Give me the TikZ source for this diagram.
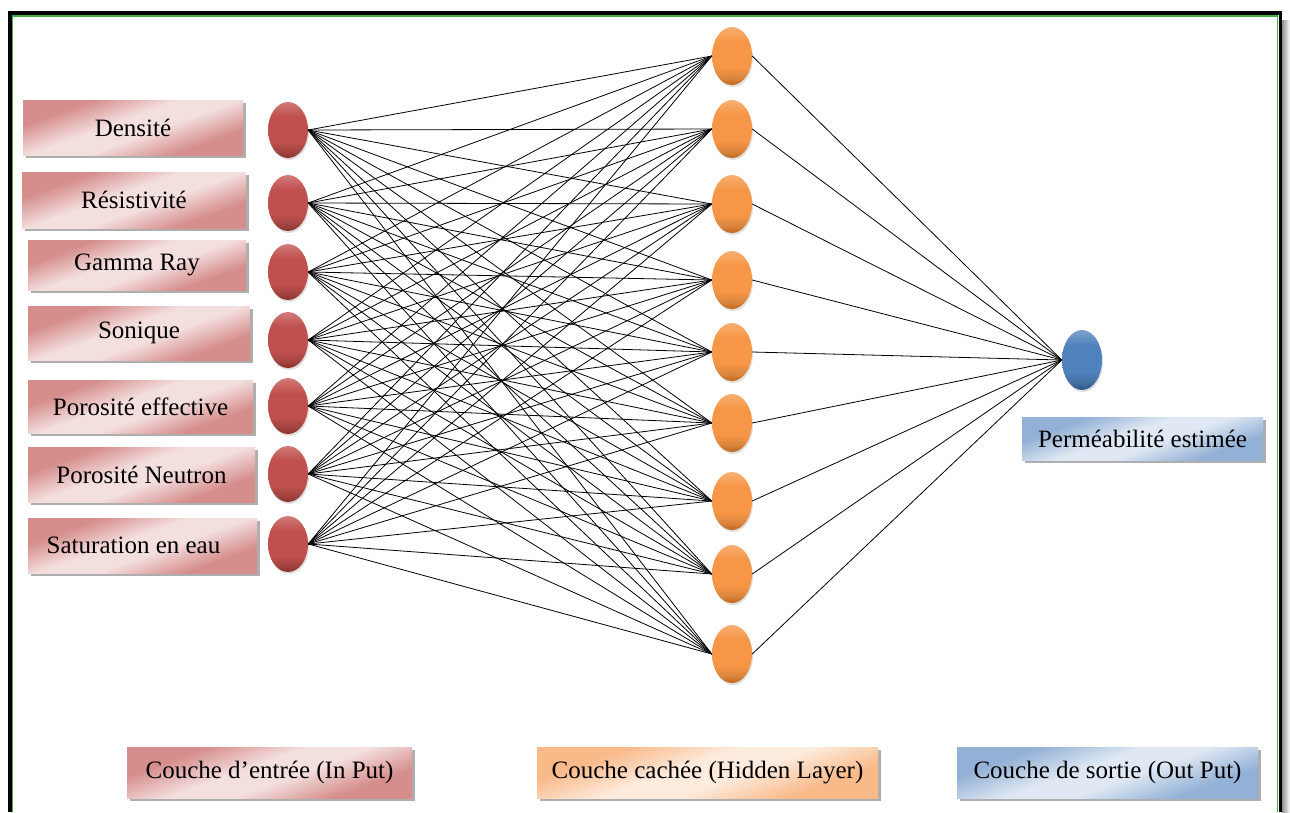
\documentclass[tikz,border=0pt]{standalone}
\usepackage{fontspec}
\setmainfont{Liberation Serif}
\usetikzlibrary{shadows,shapes.geometric}
\definecolor{inred}{HTML}{C0504D}
\definecolor{inredlt}{HTML}{D27B79}
\definecolor{inreddk}{HTML}{8A302E}
\definecolor{hidor}{HTML}{F79646}
\definecolor{hidorlt}{HTML}{F9AE70}
\definecolor{hidordk}{HTML}{C0661C}
\definecolor{outbl}{HTML}{4F81BD}
\definecolor{outbllt}{HTML}{7DA0CE}
\definecolor{outbldk}{HTML}{2F5687}
\definecolor{pinkdk}{HTML}{D58E8C}
\definecolor{pinklt}{HTML}{F4DFDF}
\definecolor{peachdk}{HTML}{F9BA8A}
\definecolor{peachlt}{HTML}{FDEBDD}
\definecolor{skydk}{HTML}{93B1D6}
\definecolor{skylt}{HTML}{DFE8F3}
\definecolor{framegreen}{HTML}{3FAE3F}
\pgfdeclareverticalshading{pinkdiag}{100bp}{color(0bp)=(pinkdk); color(30bp)=(pinkdk); color(45bp)=(pinklt); color(55bp)=(pinklt); color(70bp)=(pinkdk); color(100bp)=(pinkdk)}
\pgfdeclareverticalshading{peachdiag}{100bp}{color(0bp)=(peachdk); color(30bp)=(peachdk); color(45bp)=(peachlt); color(55bp)=(peachlt); color(70bp)=(peachdk); color(100bp)=(peachdk)}
\pgfdeclareverticalshading{skydiag}{100bp}{color(0bp)=(skydk); color(30bp)=(skydk); color(45bp)=(skylt); color(55bp)=(skylt); color(70bp)=(skydk); color(100bp)=(skydk)}
\pgfdeclareverticalshading{redball}{100bp}{color(0bp)=(inreddk); color(25bp)=(inreddk); color(31bp)=(inred!85!black); color(40bp)=(inred); color(62bp)=(inred); color(75bp)=(inredlt); color(100bp)=(inredlt)}
\pgfdeclareverticalshading{orangeball}{100bp}{color(0bp)=(hidordk); color(25bp)=(hidordk); color(31bp)=(hidor!88!black); color(40bp)=(hidor); color(62bp)=(hidor); color(75bp)=(hidorlt); color(100bp)=(hidorlt)}
\pgfdeclareverticalshading{blueball}{100bp}{color(0bp)=(outbldk); color(25bp)=(outbldk); color(31bp)=(outbl!85!black); color(40bp)=(outbl); color(62bp)=(outbl); color(75bp)=(outbllt); color(100bp)=(outbllt)}
\begin{document}
\begin{tikzpicture}[x=1pt,y=-1pt,
  lbl/.style={font=\fontsize{25}{30}\selectfont, inner sep=0pt, text=black},
  boxbase/.style={lbl,
     drop shadow={shadow xshift=3pt, shadow yshift=-3pt, opacity=0.45, fill=black!70}},
  pinkbox/.style={boxbase, shading=pinkdiag, shading angle=20},
  peachbox/.style={boxbase, shading=peachdiag, shading angle=20},
  skybox/.style={boxbase, shading=skydiag, shading angle=20},
  neuron/.style={ellipse, inner sep=0pt, minimum width=40pt,
     drop shadow={shadow xshift=1pt, shadow yshift=-2pt, opacity=0.25}},
  inneuron/.style={neuron, minimum height=56pt, shading=redball},
  hidneuron/.style={neuron, minimum height=58pt, shading=orangeball},
  outneuron/.style={neuron, minimum height=60pt, shading=blueball},
  conn/.style={draw=black, line width=0.8pt}]
\useasboundingbox (0,0) rectangle (1290,812);
% frame
\shade[left color=black!45, right color=white] (1281.7,20) rectangle (1290,812);
\draw[line width=3.3pt, black] (10,812) -- (10,13) -- (1280.2,13) -- (1280.2,812);
\draw[line width=1.2pt, framegreen] (12.2,812) -- (12.2,15.9) -- (1277.7,15.9) -- (1277.7,812);

% input boxes
\node[pinkbox, minimum width=220pt, minimum height=55pt] (b1) at (133,127.5) {Densité};
\node[pinkbox, minimum width=224pt, minimum height=56pt] (b2) at (134,200) {Résistivité};
\node[pinkbox, minimum width=218pt, minimum height=50pt] (b3) at (137,265) {Gamma Ray};
\node[pinkbox, minimum width=222pt, minimum height=54pt] (b4) at (139,333) {Sonique};
\node[pinkbox, minimum width=225pt, minimum height=53pt] (b5) at (140.5,406.5) {Porosité effective};
\node[pinkbox, minimum width=227pt, minimum height=55pt] (b6) at (141.5,474.5) {Porosité Neutron};
\node[pinkbox, minimum width=229pt, minimum height=55pt] (b7) at (142.5,545.5) {Saturation en eau\hspace*{18pt}};

% input neurons
\node[inneuron] (i1) at (288,130) {};
\node[inneuron] (i2) at (288,203) {};
\node[inneuron] (i3) at (288,272) {};
\node[inneuron] (i4) at (288,340) {};
\node[inneuron] (i5) at (288,406) {};
\node[inneuron] (i6) at (288,474) {};
\node[inneuron] (i7) at (288,544) {};

% hidden neurons
\node[hidneuron] (h1) at (732,56) {};
\node[hidneuron] (h2) at (732,129) {};
\node[hidneuron] (h3) at (732,204) {};
\node[hidneuron] (h4) at (732,280) {};
\node[hidneuron] (h5) at (732,352) {};
\node[hidneuron] (h6) at (732,423) {};
\node[hidneuron] (h7) at (732,501) {};
\node[hidneuron] (h8) at (732,574) {};
\node[hidneuron] (h9) at (732,654) {};

% output neuron
\node[outneuron] (o) at (1082,360) {};
\node[skybox, minimum width=241pt, minimum height=43pt] (ob) at (1142.5,438.5) {Perméabilité estimée};

% connections
\foreach \i in {1,...,7}{
  \foreach \j in {1,...,9}{
    \draw[conn] (i\i.east) -- (h\j.west);
  }
}
\foreach \j in {1,...,9}{
  \draw[conn] (h\j.east) -- (o.west);
}

% legend
\node[pinkbox, minimum width=285pt, minimum height=51pt] (l1) at (269.5,772.5) {Couche d’entrée (In Put)};
\node[peachbox, minimum width=341pt, minimum height=51pt] (l2) at (707.5,772.5) {Couche cachée (Hidden Layer)};
\node[skybox, minimum width=301pt, minimum height=51pt] (l3) at (1107.5,772.5) {Couche de sortie (Out Put)};
\end{tikzpicture}
\end{document}
